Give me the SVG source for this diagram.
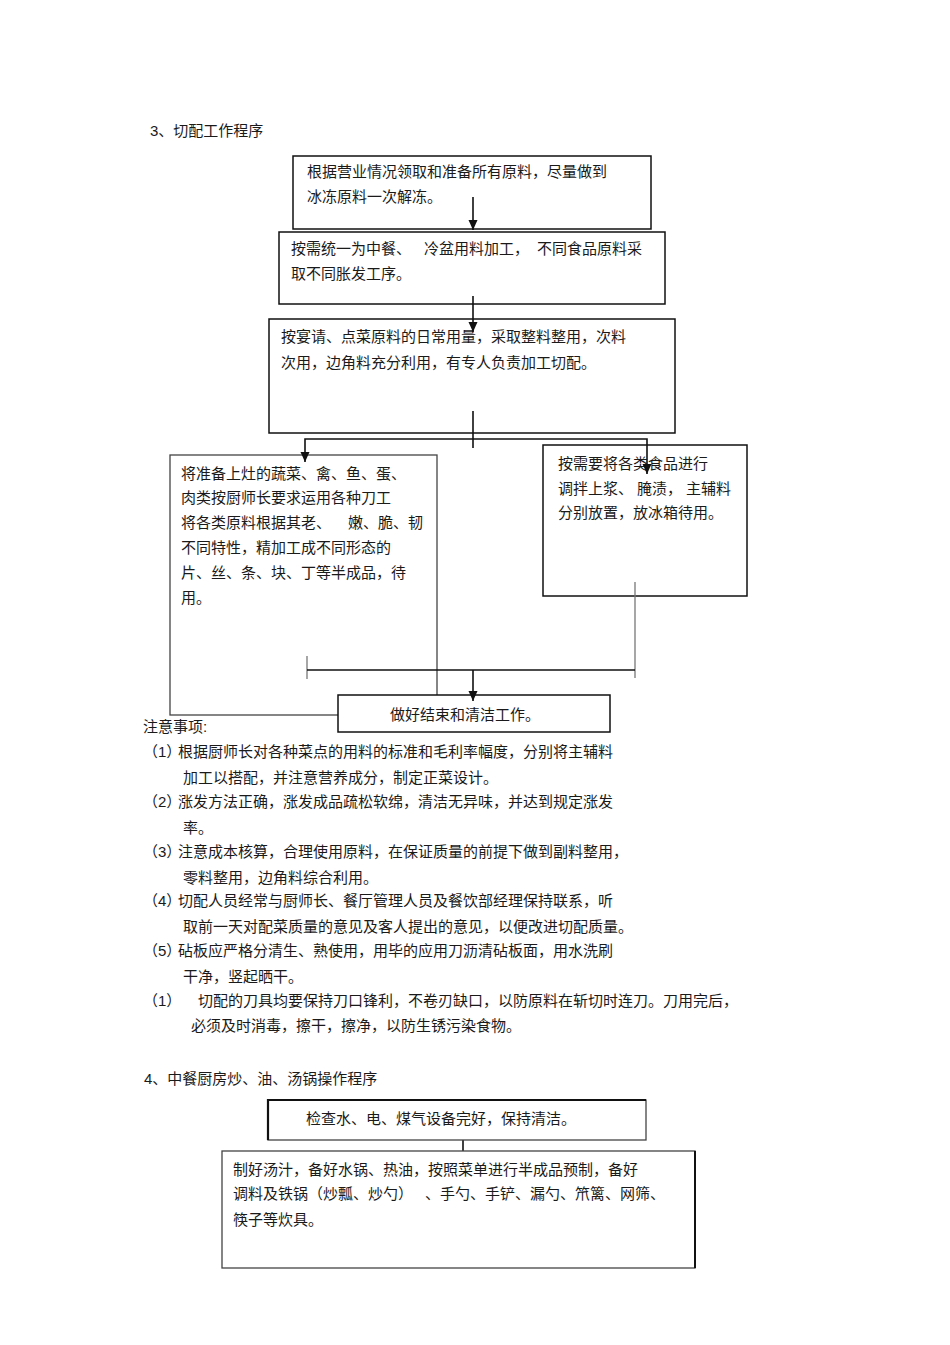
<svg xmlns="http://www.w3.org/2000/svg" width="950" height="1345" viewBox="0 0 950 1345">
<style>
text{font-family:"Liberation Sans","Noto Sans CJK SC",sans-serif;font-size:15px;fill:#1a1a1a}
.box{fill:#fff;stroke:#111;stroke-width:1.5}
.gbox{fill:#fff;stroke:#444;stroke-width:1.3}
.ln{fill:none;stroke:#111;stroke-width:1.6}
.gl{fill:none;stroke:#777;stroke-width:1.3}
.arr{fill:none;stroke:#111;stroke-width:1.6;marker-end:url(#ah)}
</style>
<defs>
<marker id="ah" markerUnits="userSpaceOnUse" markerWidth="12" markerHeight="12" refX="10" refY="6" orient="auto">
<path d="M0,1.5 L10,6 L0,10.5 z" fill="#111"/>
</marker>
</defs>
<rect width="950" height="1345" fill="#fff"/>

<text x="150" y="136">3、切配工作程序</text>

<g id="n1">
<rect class="box" x="293" y="156" width="358" height="73"/>
<text x="307" y="177">根据营业情况领取和准备所有原料，尽量做到</text>
<text x="307" y="202">冰冻原料一次解冻。</text>
</g>

<g id="n2">
<rect class="box" x="279" y="232" width="386" height="72"/>
<text y="254"><tspan x="291">按需统一为中餐、</tspan><tspan x="424">冷盆用料加工，</tspan><tspan x="537">不同食品原料采</tspan></text>
<text x="291" y="279">取不同胀发工序。</text>
</g>

<g id="n3">
<rect class="box" x="269" y="319" width="406" height="114"/>
<text x="281" y="342">按宴请、点菜原料的日常用量，采取整料整用，次料</text>
<text x="281" y="368">次用，边角料充分利用，有专人负责加工切配。</text>
</g>

<g id="n4">
<rect class="gbox" x="170" y="455" width="267" height="260"/>
<text x="181" y="479">将准备上灶的蔬菜、禽、鱼、蛋、</text>
<text x="181" y="503">肉类按厨师长要求运用各种刀工</text>
<text y="528"><tspan x="181">将各类原料根据其老、</tspan><tspan x="348">嫩、脆、韧</tspan></text>
<text x="181" y="553">不同特性，精加工成不同形态的</text>
<text x="181" y="578">片、丝、条、块、丁等半成品，待</text>
<text x="181" y="603">用。</text>
</g>

<g id="n5">
<rect class="box" x="543" y="445" width="204" height="151"/>
<text x="558" y="469">按需要将各类食品进行</text>
<text y="494"><tspan x="558">调拌上浆、</tspan><tspan x="637">腌渍，</tspan><tspan x="686">主辅料</tspan></text>
<text x="558" y="518">分别放置，放冰箱待用。</text>
</g>

<g id="n6">
<rect class="box" x="338" y="695" width="272" height="37"/>
<text x="390" y="720">做好结束和清洁工作。</text>
</g>

<g id="connectors">
<path class="arr" d="M473,197 V230"/>
<path class="arr" d="M473,296 V332"/>
<path class="ln" d="M473,411 V448"/>
<path class="arr" d="M473,439 H305 V462"/>
<path class="arr" d="M473,439 H647 V474"/>
<path class="gl" d="M307,656 V679"/>
<path class="gl" d="M635,582 V678"/>
<path class="ln" d="M307,670 H635"/>
<path class="arr" d="M473,670 V701"/>
<path class="arr" d="M463,1140 V1169"/>
</g>

<g id="notes">
<text x="143" y="732">注意事项:</text>
<text y="757"><tspan x="143">（1）</tspan><tspan x="178">根据厨师长对各种菜点的用料的标准和毛利率幅度，分别将主辅料</tspan></text>
<text x="183" y="783">加工以搭配，并注意营养成分，制定正菜设计。</text>
<text y="807"><tspan x="143">（2）</tspan><tspan x="178">涨发方法正确，涨发成品疏松软绵，清洁无异味，并达到规定涨发</tspan></text>
<text x="183" y="833">率。</text>
<text y="857"><tspan x="143">（3）</tspan><tspan x="178">注意成本核算，合理使用原料，在保证质量的前提下做到副料整用，</tspan></text>
<text x="183" y="883">零料整用，边角料综合利用。</text>
<text y="906"><tspan x="143">（4）</tspan><tspan x="178">切配人员经常与厨师长、餐厅管理人员及餐饮部经理保持联系，听</tspan></text>
<text x="183" y="932">取前一天对配菜质量的意见及客人提出的意见，以便改进切配质量。</text>
<text y="956"><tspan x="143">（5）</tspan><tspan x="178">砧板应严格分清生、熟使用，用毕的应用刀沥清砧板面，用水洗刷</tspan></text>
<text x="183" y="982">干净，竖起晒干。</text>
<text y="1006"><tspan x="143">（1）</tspan><tspan x="198">切配的刀具均要保持刀口锋利，不卷刃缺口，以防原料在斩切时连刀。刀用完后，</tspan></text>
<text x="191" y="1031">必须及时消毒，擦干，擦净，以防生锈污染食物。</text>
</g>

<text x="144" y="1084">4、中餐厨房炒、油、汤锅操作程序</text>

<g id="n7">
<rect class="gbox" x="268" y="1100" width="378" height="40"/>
<path class="ln" d="M268,1140 V1100 H646" style="stroke-width:2.2"/>
<text x="306" y="1124">检查水、电、煤气设备完好，保持清洁。</text>
</g>

<g id="n8">
<rect class="gbox" x="222" y="1151" width="473" height="117"/>
<path class="ln" d="M695,1151 V1268" style="stroke-width:2"/>
<text x="233" y="1175">制好汤汁，备好水锅、热油，按照菜单进行半成品预制，备好</text>
<text y="1199"><tspan x="233">调料及铁锅（炒瓢、炒勺）</tspan><tspan x="425">、手勺、手铲、漏勺、笊篱、网筛、</tspan></text>
<text x="233" y="1225">筷子等炊具。</text>
</g>
</svg>
